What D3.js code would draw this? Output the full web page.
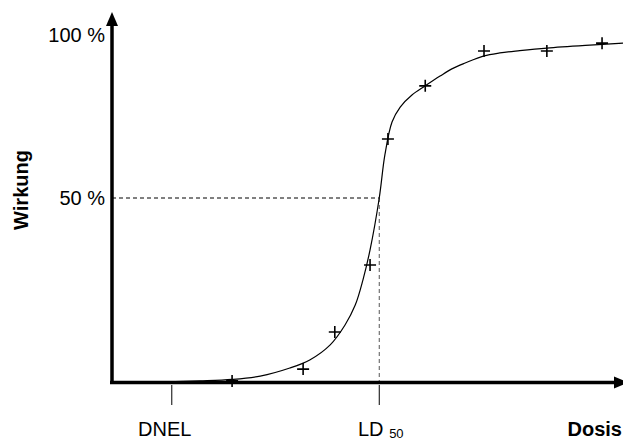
<!DOCTYPE html>
<html lang="de">
<head>
<meta charset="UTF-8">
<title>Dosis-Wirkungs-Kurve</title>
<script src="https://d3js.org/d3.v7.min.js"></script>
<style>
  body { margin: 0; background: #fff; }
  text { font-family: "Liberation Sans", Arial, sans-serif; fill: #000; }
</style>
</head>
<body>
<script>
// Messpunkte (Dosis in %, Wirkung in %)
var pointDose   = [23.5, 37.4, 43.6, 50.5, 54.0, 61.3, 72.8, 85.1, 95.9];
var pointEffect = [0.3, 3.5, 13.6, 31.8, 68.1, 84.4, 95.1, 95.1, 97.5];

// angepasste Kurve
var curveDose   = [9.4, 17.2, 23.5, 29.0, 34.8, 38.7, 42.7, 45.6, 47.6, 49.1, 50.5, 52.3, 53.4, 54.8, 56.4, 58.7, 61.3, 64.2, 66.5, 69.1, 72.8, 75.9, 79.8, 85.1, 93.5, 100];
var curveEffect = [0, 0.3, 0.7, 1.6, 3.8, 6.0, 10.1, 15.5, 20.9, 27.7, 35.9, 50, 63.2, 73.3, 77.9, 81.6, 84.4, 87.4, 89.6, 91.4, 93.6, 94.5, 95.2, 96.0, 96.9, 97.5];

var yTicks = [100, 50];
var yTickLabels = ["100 %", "50 %"];
var xMarks = ["DNEL", "LD"];
var xMarkDose = [11.7, 52.3];

var width = 623, height = 441;
var svg = d3.select("body").append("svg").attr("width", width).attr("height", height);

var x = d3.scaleLinear().domain([0, 100]).range([112, 623]);
var y = d3.scaleLinear().domain([0, 50, 100]).range([382, 198, 35]);

// Hilfslinien fuer LD50
svg.append("line").attr("x1", x(0)).attr("x2", x(52.3)).attr("y1", y(50)).attr("y2", y(50))
  .attr("stroke", "#000").attr("stroke-width", 1).attr("stroke-dasharray", "4,3");
svg.append("line").attr("x1", x(52.3)).attr("x2", x(52.3)).attr("y1", y(50)).attr("y2", y(0))
  .attr("stroke", "#555").attr("stroke-width", 1).attr("stroke-dasharray", "4,3");

// Kurve
var curveData = curveDose.map(function (d, i) { return [d, curveEffect[i]]; });
var line = d3.line().x(function (d) { return x(d[0]); }).y(function (d) { return y(d[1]); })
  .curve(d3.curveCatmullRom.alpha(0.5));
svg.append("path").datum(curveData).attr("d", line)
  .attr("fill", "none").attr("stroke", "#000").attr("stroke-width", 1.2);

// Achsen
svg.append("line").attr("x1", 112).attr("x2", 112).attr("y1", 384).attr("y2", 22)
  .attr("stroke", "#000").attr("stroke-width", 3.5);
svg.append("path").attr("d", "M112,12 L106,26 L118,26 Z").attr("fill", "#000");
svg.append("line").attr("x1", 110).attr("x2", 615).attr("y1", 382.5).attr("y2", 382.5)
  .attr("stroke", "#000").attr("stroke-width", 3.5);
svg.append("path").attr("d", "M628,382.5 L614,376.5 L614,388.5 Z").attr("fill", "#000");

// Messpunkte als Kreuze
var pts = pointDose.map(function (d, i) { return [d, pointEffect[i]]; });
svg.selectAll(".cross").data(pts).enter().append("path")
  .attr("class", "cross")
  .attr("d", function (d) {
    var cx = x(d[0]), cy = y(d[1]);
    return "M" + (cx - 6) + "," + cy + "H" + (cx + 6) + "M" + cx + "," + (cy - 6) + "V" + (cy + 6);
  })
  .attr("stroke", "#000").attr("stroke-width", 1.6).attr("fill", "none");

// y-Beschriftung
svg.selectAll(".ylab").data(yTicks).enter().append("text")
  .attr("x", 105).attr("y", function (d) { return y(d) + 7; })
  .attr("text-anchor", "end").attr("font-size", 20)
  .text(function (d, i) { return yTickLabels[i]; });

// x-Markierungen
svg.selectAll(".xtick").data(xMarkDose).enter().append("line")
  .attr("x1", function (d) { return x(d); }).attr("x2", function (d) { return x(d); })
  .attr("y1", 385).attr("y2", 405).attr("stroke", "#000").attr("stroke-width", 1);

svg.append("text").attr("x", x(xMarkDose[0]) - 7).attr("y", 436)
  .attr("text-anchor", "middle").attr("font-size", 20).text(xMarks[0]);
var ld = svg.append("text").attr("x", 358).attr("y", 436).attr("font-size", 20);
ld.append("tspan").text(xMarks[1] + " ");
ld.append("tspan").attr("font-size", 13).attr("dy", 2).text("50");

svg.append("text").attr("x", 622).attr("y", 436).attr("text-anchor", "end")
  .attr("font-size", 20).attr("font-weight", "bold").text("Dosis");

svg.append("text").attr("transform", "translate(28,190) rotate(-90)")
  .attr("text-anchor", "middle").attr("font-size", 20).attr("font-weight", "bold").text("Wirkung");
</script>
</body>
</html>
